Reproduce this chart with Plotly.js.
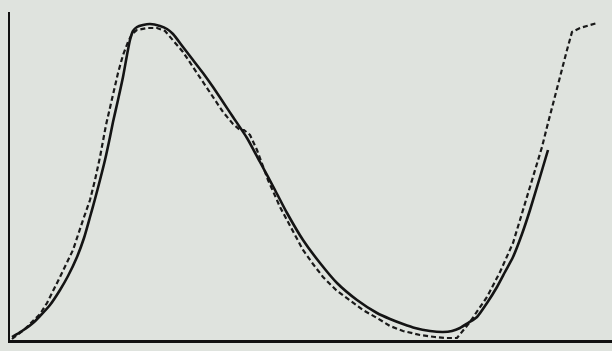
<!DOCTYPE html>
<html>
<head>
<meta charset="utf-8">
<script src="https://cdn.plot.ly/plotly-3.0.1.min.js"></script>
<style>html,body{margin:0;padding:0;background:#dfe3de;}#chart{width:612px;height:351px;}</style>
</head>
<body>
<div id="chart"></div>
<script>
// Solid curve (observed)
const solidX = [2,12,23,30,40,50,58,67,74,80,85,90,95,100,103,108,113,117,120,123,127,133,140,150,157,163,173,183,193,203,213,223,237,250,265,277,293,310,327,347,367,380,393,405,420,433,442,450,458,467,477,487,495,503,512,520,530,538];
const solidY = [3,9,17,24,35,50,64,83,102,123,141,160,180,203,218,240,263,285,300,309,313,315,316,314,311,306,293,280,267,253,238,223,202,178,150,127,100,77,57,40,27,21,16,12,9,8,9,12,17,23,37,53,68,83,106,130,163,190];
// Dashed curve (calculated)
const dashX = [2,15,30,37,50,63,73,80,85,90,96,103,108,113,118,122,127,137,147,155,163,173,183,193,203,213,223,230,234,240,247,258,270,282,293,303,313,326,340,353,367,380,393,410,425,435,447,452,460,468,477,490,503,510,517,525,532,537,542,547,552,557,562,570,587];
const dashY = [1,11,26,37,63,90,120,140,160,183,215,247,267,285,298,306,310,312,312,309,300,288,273,258,242,228,216,210,210,205,190,160,133,110,90,76,63,50,40,30,22,14,9,5,3,2,2,8,18,30,43,68,97,120,143,168,193,213,233,253,273,290,308,312,317];

const traces = [
  {x: dashX, y: dashY, mode: 'lines', line: {color: '#1a1a1a', width: 2.2, dash: '5px,3px'}, hoverinfo: 'skip'},
  {x: solidX, y: solidY, mode: 'lines', line: {color: '#141414', width: 2.6, shape: 'spline', smoothing: 0.6}, hoverinfo: 'skip'}
];
const layout = {
  width: 612, height: 351,
  margin: {l: 10, r: 0, t: 12, b: 11},
  paper_bgcolor: '#dfe3de', plot_bgcolor: '#dfe3de',
  showlegend: false,
  xaxis: {range: [0, 602], showgrid: false, zeroline: false, showticklabels: false, ticks: '', showline: true, linecolor: '#111', linewidth: 2.5},
  yaxis: {range: [0, 328], showgrid: false, zeroline: false, showticklabels: false, ticks: '', showline: true, linecolor: '#111', linewidth: 2}
};
Plotly.newPlot('chart', traces, layout, {staticPlot: true, displayModeBar: false});
</script>
</body>
</html>
